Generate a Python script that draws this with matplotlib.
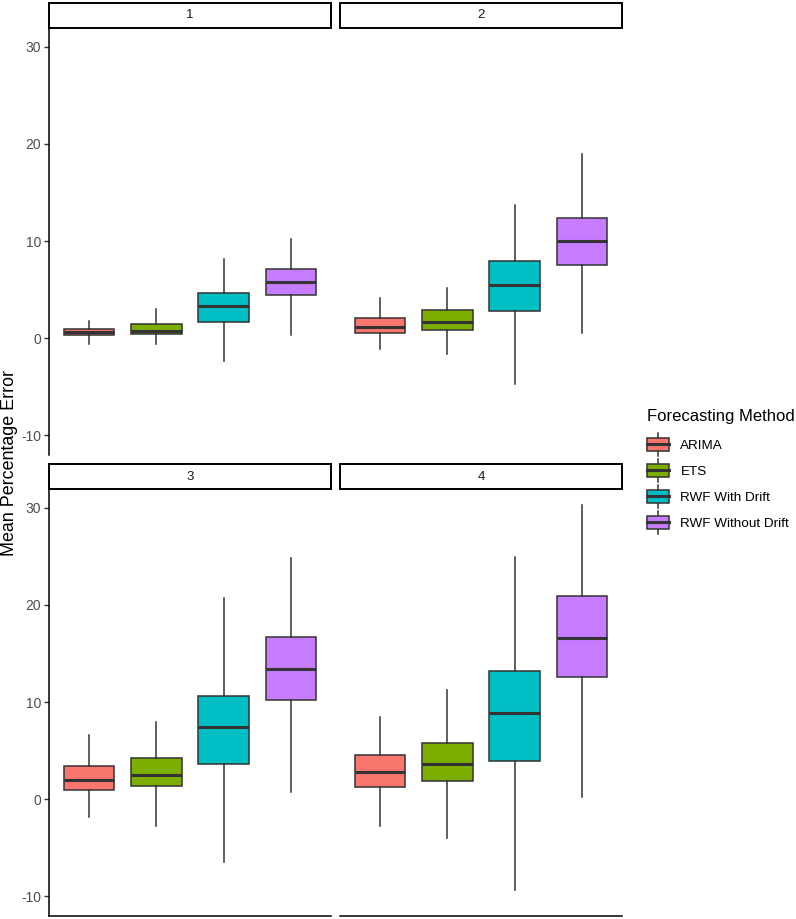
import matplotlib.pyplot as plt
import numpy as np
from matplotlib.patches import Rectangle
from matplotlib.lines import Line2D
from matplotlib.legend_handler import HandlerBase

plt.rcParams['font.family'] = ['Liberation Sans', 'DejaVu Sans']
plt.rcParams['axes.unicode_minus'] = False

# Forecast horizons (facets) and methods
horizons = ["1", "2", "3", "4"]
methods = ["ARIMA", "ETS", "RWF With Drift", "RWF Without Drift"]
colors = ["#F8766D", "#7CAE00", "#00BFC4", "#C77CFF"]

# box stats: [whisker low, q1, median, q3, whisker high]
stats_h1 = [[-0.65, 0.27, 0.6, 0.9, 1.75],
            [-0.65, 0.38, 0.72, 1.5, 3.0],
            [-2.4, 1.65, 3.3, 4.6, 8.1],
            [0.3, 4.4, 5.8, 7.15, 10.2]]
stats_h2 = [[-1.1, 0.55, 1.17, 2.03, 4.16],
            [-1.6, 0.82, 1.65, 2.89, 5.19],
            [-4.7, 2.82, 5.43, 7.94, 13.68],
            [0.55, 7.53, 10.03, 12.34, 19.0]]
stats_h3 = [[-1.88, 0.96, 1.95, 3.36, 6.6],
            [-2.74, 1.3, 2.53, 4.25, 7.98],
            [-6.5, 3.63, 7.4, 10.65, 20.7],
            [0.68, 10.2, 13.4, 16.7, 24.8]]
stats_h4 = [[-2.74, 1.27, 2.8, 4.49, 8.46],
            [-4.04, 1.85, 3.6, 5.82, 11.27],
            [-9.42, 3.9, 8.9, 13.18, 24.9],
            [0.24, 12.57, 16.6, 20.9, 30.3]]
all_stats = [stats_h1, stats_h2, stats_h3, stats_h4]

W, H = 796, 919
fig = plt.figure(figsize=(W / 100, H / 100), dpi=100)

# panel boxes in pixels: left, top, width, height
panels = [(49, 28, 282, 427), (340, 28, 282, 427),
          (49, 489, 282, 427), (340, 489, 282, 427)]
strip_h = 25

edge = "#333333"
for i, (px, py, pw, ph) in enumerate(panels):
    ax = fig.add_axes([px / W, 1 - (py + ph) / H, pw / W, ph / H])
    st = [dict(whislo=s[0], q1=s[1], med=s[2], q3=s[3], whishi=s[4])
          for s in all_stats[i]]
    bp = ax.bxp(st, positions=[1, 2, 3, 4], widths=0.75, patch_artist=True,
                showfliers=False, showcaps=False,
                boxprops=dict(edgecolor=edge, linewidth=1.1),
                medianprops=dict(color=edge, linewidth=2.2),
                whiskerprops=dict(color=edge, linewidth=1.1))
    for patch, c in zip(bp['boxes'], colors):
        patch.set_facecolor(c)
    ax.set_xlim(0.4, 4.6)
    ax.set_ylim(-12.05, 31.95)
    ax.set_xticks([])
    ax.set_yticks([-10, 0, 10, 20, 30])
    left = i in (0, 2)
    bottom = i in (2, 3)
    ax.spines['top'].set_visible(False)
    ax.spines['right'].set_visible(False)
    ax.spines['left'].set_visible(left)
    ax.spines['bottom'].set_visible(bottom)
    for s in ('left', 'bottom'):
        ax.spines[s].set_linewidth(1.1)
        ax.spines[s].set_color('black')
    if left:
        ax.tick_params(axis='y', length=3.5, width=1.0, color=edge,
                       labelcolor="#4D4D4D", labelsize=10, pad=2)
    else:
        ax.tick_params(axis='y', left=False, labelleft=False)
    # facet strip
    sh = strip_h / ph
    ax.add_patch(Rectangle((0, 1), 1, sh, transform=ax.transAxes,
                           facecolor='white', edgecolor='black',
                           linewidth=1.4, clip_on=False))
    ax.text(0.5, 1 + sh / 2, horizons[i], transform=ax.transAxes,
            ha='center', va='center', fontsize=9.5, color="#1A1A1A")

fig.text(10 / W, 1 - 463 / H, "Mean Percentage Error", rotation=90,
         ha='center', va='center', fontsize=12.9, color='black')


class BoxKey(HandlerBase):
    # ggplot-style boxplot legend key
    def create_artists(self, legend, orig_handle, xdescent, ydescent,
                       width, height, fontsize, trans):
        x0, y0 = -xdescent, -ydescent
        cx = x0 + width / 2
        cy = y0 + height / 2
        half = 8.3
        bh = 4.7
        whisk = Line2D([cx, cx], [cy - half, cy + half], color=edge,
                       linewidth=1.1, transform=trans)
        box = Rectangle((x0, cy - bh), width, 2 * bh,
                        facecolor=orig_handle.get_facecolor(),
                        edgecolor=edge, linewidth=1.1, transform=trans)
        med = Line2D([x0, x0 + width], [cy, cy], color=edge,
                     linewidth=2.2, transform=trans)
        return [whisk, box, med]


fig.text(647 / W, 1 - 416 / H, "Forecasting Method", ha='left',
         va='center', fontsize=12, color='black')
handles = [Rectangle((0, 0), 1, 1, facecolor=c) for c in colors]
fig.legend(handles, methods, handler_map={Rectangle: BoxKey()},
           loc='upper left', bbox_to_anchor=(647 / W, 1 - 435 / H),
           frameon=False, fontsize=9.7, handlelength=1.63,
           handleheight=1.75, handletextpad=0.85, labelspacing=0.55,
           borderpad=0, borderaxespad=0)

fig.savefig("out.png", dpi=100)
